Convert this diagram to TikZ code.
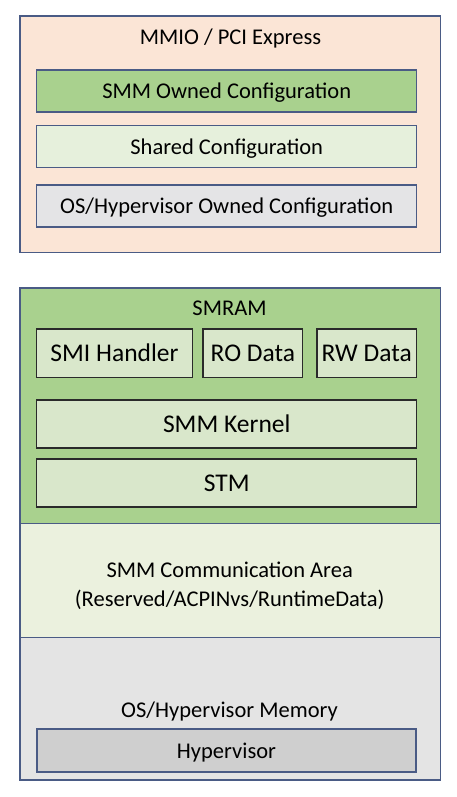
\documentclass[tikz,border=0pt]{standalone}
\usepackage{fontspec}
\setmainfont{Carlito}
\definecolor{peach}{HTML}{FBE5D6}
\definecolor{bordblue}{HTML}{4A5B85}
\definecolor{smmgreen}{HTML}{A9D18E}
\definecolor{sharedgreen}{HTML}{E6F0DC}
\definecolor{osgray}{HTML}{E4E4E6}
\definecolor{innergreen}{HTML}{D9E7CB}
\definecolor{innerborder}{HTML}{2A2A2A}
\definecolor{commgreen}{HTML}{EBF1DE}
\definecolor{memgray}{HTML}{E4E4E4}
\definecolor{hypgray}{HTML}{CFCFCF}
\begin{document}
\begin{tikzpicture}[x=1pt,y=-1pt,
  outerbox/.style={draw=bordblue, line width=1.5pt, inner sep=0pt},
  cfgbox/.style={draw=bordblue, line width=1.5pt, inner sep=0pt,
    minimum width=380pt, minimum height=42pt,
    text height=17pt, text depth=2pt,
    font=\fontsize{22.5}{27}\selectfont},
  smbox/.style={draw=innerborder, fill=innergreen, line width=1.4pt, inner sep=0pt,
    minimum height=48.5pt,
    text height=19pt, text depth=2pt,
    font=\fontsize{25.5}{30}\selectfont},
  lbl/.style={anchor=base, inner sep=0pt, font=\fontsize{22.5}{27}\selectfont}]
\useasboundingbox (0,0) rectangle (457,797);
% top group
\node[outerbox, fill=peach, minimum width=420.7pt, minimum height=236.5pt] (mmio) at (230.35,134.25) {};
\node[lbl] (mmiotitle) at (230.5,45) {MMIO / PCI Express};
\node[cfgbox, fill=smmgreen] (smmowned) at (226.7,91) {SMM Owned Configuration};
\node[cfgbox, fill=sharedgreen] (shared) at (226.7,146.7) {Shared Configuration};
\node[cfgbox, fill=osgray] (osowned) at (226.7,206) {OS/Hypervisor Owned Configuration};
% lower group
\node[outerbox, fill=smmgreen, minimum width=420.7pt, minimum height=235.3pt] (smram) at (230.35,405.65) {};
\node[outerbox, fill=commgreen, minimum width=420.7pt, minimum height=114.2pt] (comm) at (230.35,580.4) {};
\node[outerbox, fill=memgray, minimum width=420.7pt, minimum height=142.5pt] (mem) at (230.35,708.75) {};
\node[lbl] (smramtitle) at (229.5,315) {SMRAM};
\node[smbox, minimum width=155.6pt] (smi) at (114.5,353.2) {SMI Handler};
\node[smbox, minimum width=99.7pt] (ro) at (252.85,353.2) {RO Data};
\node[smbox, minimum width=99.3pt] (rw) at (366.65,353.2) {RW Data};
\node[smbox, minimum width=380pt, minimum height=48pt] (kernel) at (226.7,424) {SMM Kernel};
\node[smbox, minimum width=380pt, minimum height=48pt] (stm) at (226.7,483) {STM};
\node[lbl] (commA) at (229.7,577) {SMM Communication Area};
\node[lbl] (commB) at (229.7,606) {(Reserved/ACPINvs/RuntimeData)};
\node[lbl] (memtitle) at (229.5,717) {OS/Hypervisor Memory};
\node[cfgbox, fill=hypgray, line width=1.8pt, minimum width=379.6pt, minimum height=42.4pt] (hyp) at (226.5,750.5) {Hypervisor};
\end{tikzpicture}
\end{document}
